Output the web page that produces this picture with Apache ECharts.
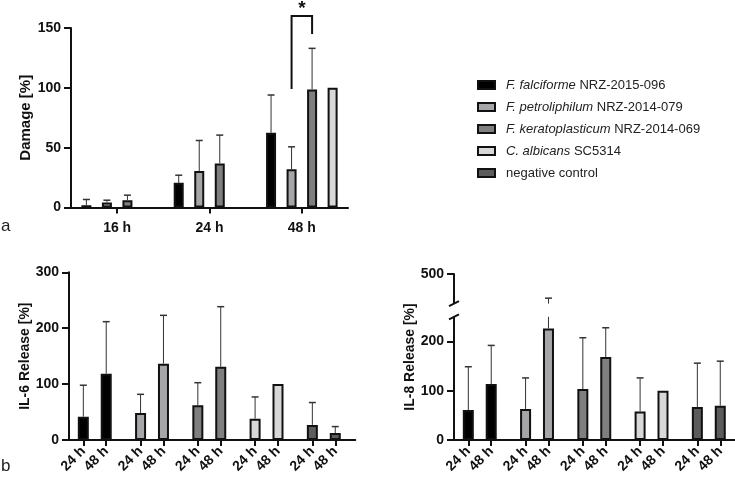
<!DOCTYPE html>
<html>
<head>
<meta charset="utf-8">
<script src="https://cdn.jsdelivr.net/npm/echarts@6/dist/echarts.min.js"></script>
<style>
html, body { margin: 0; padding: 0; background: #fff; }
#chart-container { width: 735px; height: 478px; }
</style>
</head>
<body>
<div id="chart-container"></div>
<script>
// strains (legend)
const strainItalic = ["F. falciforme", "F. petroliphilum", "F. keratoplasticum", "C. albicans", ""];
const strainCode = ["NRZ-2015-096", "NRZ-2014-079", "NRZ-2014-069", "SC5314", "negative control"];
const strainColors = ["#000000", "#a6a6a8", "#7f7f7f", "#d8d8d8", "#5c5c5c"];

// panel a - damage [%] at 16 h, 24 h, 48 h
const damageTimes = ["16 h", "24 h", "48 h"];
const damageMean = [
    [1.9, 20.6, 62.5],
    [4.2, 30.4, 32],
    [6.1, 36.8, 98.7],
    [null, null, 100],
];
const damageSD = [
    [4.8, 6.4, 31.5],
    [1.9, 25.6, 18.7],
    [4.2, 23.7, 34.3],
    [null, null, 0],
];
const damageTicks = [0, 50, 100, 150];

// panel b - IL-6 / IL-8 release [%] at 24 h and 48 h, per strain
const releaseTimes = ["24 h", "48 h"];
const il6Mean = [[41.7, 118.6], [48.3, 136.5], [62, 131], [38, 100], [27, 12.5]];
const il6SD = [[56.3, 93.1], [33.4, 86.5], [40.5, 107.5], [39, 0], [40, 11.5]];
const il6Ticks = [0, 100, 200, 300];

const il8Mean = [[60.8, 113.6], [63, 226.5], [103.4, 168.4], [58, 100], [67, 69.7]];
const il8SD = [[87.9, 78.4], [63, 224.5], [104.2, 59.4], [68, 0], [89, 90.3]];
const il8Ticks = [0, 100, 200, 500];
const il8Break = [250, 440];

// significance between F. petroliphilum and F. keratoplasticum at 48 h
const sigPair = [1, 2];
const sigTime = 2;
const sigLow = [99, 145];
const sigTop = 160;

const FONT = "Liberation Sans, Arial, sans-serif";
const strainNames = strainItalic.map((t, i) => (t ? t + " " + strainCode[i] : strainCode[i]));

// slot layout of the category axes
const slotsA = 9, barSlotA = [1, 3, 5, 7];
const slotsB = 10, timeSlotB = [2, 6];
const slotA = (t, s) => t * slotsA + barSlotA[s];
const slotB = (s, t) => s * slotsB + timeSlotB[t];

const catA = [];
for (let i = 0; i < damageTimes.length * slotsA; i++) catA.push("");
damageTimes.forEach((t, i) => (catA[i * slotsA + 4] = t));
const catB = [];
for (let i = 0; i < strainNames.length * slotsB; i++) catB.push("");
strainNames.forEach((n, s) => releaseTimes.forEach((t, j) => (catB[slotB(s, j)] = t)));

const showA = (i) => i % slotsA === 4;
const showB = (i) => timeSlotB.indexOf(i % slotsB) >= 0;

function xAxis(gridIndex, data, show, rotate, margin) {
    return {
        type: "category",
        gridIndex: gridIndex,
        data: data,
        axisLine: { lineStyle: { color: "#111", width: 2 } },
        axisTick: { show: true, interval: show, alignWithLabel: true, length: 6, lineStyle: { color: "#111", width: 2 } },
        axisLabel: {
            interval: show, rotate: rotate, margin: margin,
            fontFamily: FONT, fontSize: 14, fontWeight: "bold", color: "#111",
        },
        splitLine: { show: false },
    };
}

function yAxis(gridIndex, name, ticks, gap, nameSize) {
    return {
        type: "value",
        gridIndex: gridIndex,
        name: name,
        nameLocation: "middle",
        nameGap: gap,
        nameTextStyle: { fontFamily: FONT, fontSize: nameSize, fontWeight: "bold", color: "#111" },
        min: ticks[0],
        max: ticks[ticks.length - 1],
        axisLine: { show: true, lineStyle: { color: "#111", width: 2 } },
        axisTick: { show: true, length: 7, customValues: ticks, lineStyle: { color: "#111", width: 2 } },
        axisLabel: {
            margin: 10, customValues: ticks, showMinLabel: true, showMaxLabel: true, hideOverlap: false,
            fontFamily: FONT, fontSize: 14, fontWeight: "bold", color: "#111",
        },
        splitLine: { show: false },
    };
}

function makeErr(brk) {
    return function (params, api) {
        const slot = api.value(0), lo = api.value(1), hi = api.value(2);
        if (!(hi > lo)) return;
        const p0 = api.coord([slot, lo]);
        const p1 = api.coord([slot, hi]);
        const st = { stroke: "#333", lineWidth: 1 };
        const kids = [];
        if (brk && lo < brk[0] && hi > brk[1]) {
            const b0 = api.coord([slot, brk[0]]), b1 = api.coord([slot, brk[1]]);
            kids.push({ type: "line", shape: { x1: p0[0], y1: p0[1], x2: b0[0], y2: b0[1] }, style: st });
            kids.push({ type: "line", shape: { x1: b1[0], y1: b1[1], x2: p1[0], y2: p1[1] }, style: st });
        } else {
            kids.push({ type: "line", shape: { x1: p0[0], y1: p0[1], x2: p1[0], y2: p1[1] }, style: st });
        }
        kids.push({ type: "line", shape: { x1: p1[0] - 3.5, y1: p1[1], x2: p1[0] + 3.5, y2: p1[1] }, style: { stroke: "#333", lineWidth: 1.5 } });
        return { type: "group", children: kids };
    };
}

const series = [];
const errA = [], errB6 = [], errB8 = [];

// panel a bars
for (let s = 0; s < 4; s++) {
    const d = catA.map(() => null);
    damageTimes.forEach((t, ti) => {
        const m = damageMean[s][ti];
        if (m == null) return;
        d[slotA(ti, s)] = m;
        errA.push([slotA(ti, s), m, m + damageSD[s][ti]]);
    });
    series.push({
        name: strainNames[s], type: "bar", xAxisIndex: 0, yAxisIndex: 0, data: d,
        barWidth: 10, barGap: "-100%",
        itemStyle: { color: strainColors[s], borderColor: "#111", borderWidth: 2 },
    });
}

// panel b bars
[[il6Mean, il6SD, errB6, 1], [il8Mean, il8SD, errB8, 2]].forEach(([mean, sd, err, g]) => {
    for (let s = 0; s < strainNames.length; s++) {
        const d = catB.map(() => null);
        releaseTimes.forEach((t, ti) => {
            d[slotB(s, ti)] = mean[s][ti];
            err.push([slotB(s, ti), mean[s][ti], mean[s][ti] + sd[s][ti]]);
        });
        series.push({
            name: strainNames[s], type: "bar", xAxisIndex: g, yAxisIndex: g, data: d,
            barWidth: 11, barGap: "-100%",
            itemStyle: { color: strainColors[s], borderColor: "#111", borderWidth: 2 },
        });
    }
});

series.push({ type: "custom", xAxisIndex: 0, yAxisIndex: 0, data: errA, renderItem: makeErr(null), z: 5, silent: true });
series.push({ type: "custom", xAxisIndex: 1, yAxisIndex: 1, data: errB6, renderItem: makeErr(null), z: 5, silent: true });
series.push({ type: "custom", xAxisIndex: 2, yAxisIndex: 2, data: errB8, renderItem: makeErr(il8Break), z: 5, silent: true });

// significance bracket
series.push({
    type: "custom", xAxisIndex: 0, yAxisIndex: 0, z: 6, silent: true, clip: false,
    data: [[slotA(sigTime, sigPair[0]), slotA(sigTime, sigPair[1]), sigLow[0], sigTop, sigLow[1]]],
    renderItem: function (params, api) {
        const a = api.coord([api.value(0), api.value(2)]);
        const b = api.coord([api.value(0), api.value(3)]);
        const c = api.coord([api.value(1), api.value(3)]);
        const d = api.coord([api.value(1), api.value(4)]);
        return {
            type: "group", children: [
                { type: "polyline", shape: { points: [a, b, c, d] }, style: { stroke: "#111", lineWidth: 2, fill: null } },
                { type: "text", style: { text: "*", x: (b[0] + c[0]) / 2, y: b[1] - 7, align: "center", verticalAlign: "middle", font: "bold 19px " + FONT, fill: "#111" } },
            ],
        };
    },
});

// axis break marks on IL-8 axis
series.push({
    type: "custom", xAxisIndex: 2, yAxisIndex: 2, z: 6, silent: true, clip: false,
    data: [[0, il8Break[0], il8Break[1]]],
    renderItem: function (params, api) {
        const x = params.coordSys.x;
        const y0 = api.coord([0, api.value(1)])[1];
        const y1 = api.coord([0, api.value(2)])[1];
        const st = { stroke: "#111", lineWidth: 2 };
        return {
            type: "group", children: [
                { type: "rect", shape: { x: x - 3, y: y1, width: 6, height: y0 - y1 }, style: { fill: "#fff" } },
                { type: "line", shape: { x1: x - 5, y1: y1 + 2.5, x2: x + 5, y2: y1 - 2.5 }, style: st },
                { type: "line", shape: { x1: x - 5, y1: y0 + 2.5, x2: x + 5, y2: y0 - 2.5 }, style: st },
            ],
        };
    },
});

const yA = yAxis(0, "Damage [%]", damageTicks, 38, 15);
const y6 = yAxis(1, "IL-6 Release [%]", il6Ticks, 36, 14);
const y8 = yAxis(2, "IL-8 Release [%]", il8Ticks, 36, 14);
y8.breaks = [{ start: il8Break[0], end: il8Break[1], gap: "8%" }];
y8.breakArea = { show: false };

let dom = document.getElementById("chart-container");
let myChart = echarts.init(dom, null, { renderer: "canvas" });

let option = {
    animation: false,
    backgroundColor: "#fff",
    title: [
        { text: "a", left: 1, top: 218, padding: 0, textStyle: { fontFamily: FONT, fontSize: 17, fontWeight: "normal", color: "#222" } },
        { text: "b", left: 1, top: 458, padding: 0, textStyle: { fontFamily: FONT, fontSize: 17, fontWeight: "normal", color: "#222" } },
    ],
    legend: {
        data: strainNames,
        orient: "vertical",
        left: 472,
        top: 73,
        itemWidth: 17,
        itemHeight: 8,
        itemGap: 8,
        icon: "rect",
        selectedMode: false,
        itemStyle: { borderColor: "#111", borderWidth: 2 },
        formatter: function (name) {
            const i = strainNames.indexOf(name);
            return strainItalic[i] ? "{i|" + strainItalic[i] + "} " + strainCode[i] : strainCode[i];
        },
        textStyle: {
            fontFamily: FONT, fontSize: 13, color: "#222", lineHeight: 14, padding: [0, 0, 0, 6],
            rich: { i: { fontFamily: FONT, fontSize: 13, fontStyle: "italic", color: "#222", lineHeight: 14 } },
        },
    },
    grid: [
        { left: 71, top: 28, width: 277, height: 179.5, outerBoundsMode: "none" },
        { left: 69, top: 272.3, width: 286.3, height: 167.7, outerBoundsMode: "none" },
        { left: 454, top: 274, width: 286.3, height: 166, outerBoundsMode: "none" },
    ],
    xAxis: [
        xAxis(0, catA, showA, 0, 14),
        xAxis(1, catB, showB, 45, 9),
        xAxis(2, catB, showB, 45, 9),
    ],
    yAxis: [yA, y6, y8],
    series: series,
};

if (option && typeof option === "object") {
    myChart.setOption(option);
}

window.addEventListener("resize", myChart.resize);
</script>
</body>
</html>
